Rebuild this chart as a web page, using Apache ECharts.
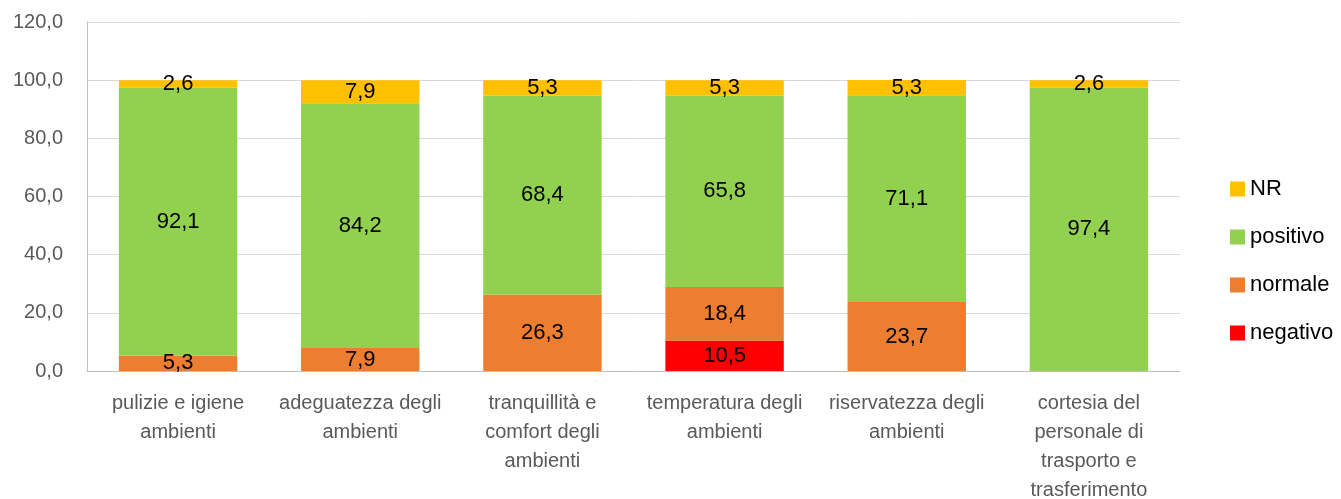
<!DOCTYPE html>
<html>
<head>
<meta charset="utf-8">
<script src="https://cdn.jsdelivr.net/npm/echarts@6/dist/echarts.min.js"></script>
<style>
  html, body { margin: 0; padding: 0; background: #fff; }
  #chart { width: 1341px; height: 499px; }
</style>
</head>
<body>
<div id="chart"></div>
<script>
// categorie (a capo come nel grafico originale)
const categories = [
  'pulizie e igiene\nambienti',
  'adeguatezza degli\nambienti',
  'tranquillità e\ncomfort degli\nambienti',
  'temperatura degli\nambienti',
  'riservatezza degli\nambienti',
  'cortesia del\npersonale di\ntrasporto e\ntrasferimento'
];
const negativo = [0, 0, 0, 10.5, 0, 0];
const normale = [5.3, 7.9, 26.3, 18.4, 23.7, 0];
const positivo = [92.1, 84.2, 68.4, 65.8, 71.1, 97.4];
const nr = [2.6, 7.9, 5.3, 5.3, 5.3, 2.6];
const legendOrder = ['NR', 'positivo', 'normale', 'negativo'];

const fontFam = '"Liberation Sans", "DejaVu Sans", sans-serif';
const fmt = v => v.toFixed(1).replace('.', ',');

function makeSeries(name, data, color) {
  return {
    name: name,
    type: 'bar',
    stack: 'tot',
    barCategoryGap: '35%',
    data: data,
    itemStyle: { color: color },
    label: {
      show: true,
      position: 'inside',
      color: '#000',
      fontSize: 22,
      fontFamily: fontFam,
      formatter: p => (p.value ? fmt(p.value) : '')
    }
  };
}

const chart = echarts.init(document.getElementById('chart'));
chart.setOption({
  animation: false,
  textStyle: { fontFamily: fontFam },
  grid: { left: 87, right: 161, top: 22, bottom: 128, containLabel: false, outerBoundsMode: 'none' },
  legend: {
    data: legendOrder,
    orient: 'vertical',
    left: 1225,
    top: 173,
    itemWidth: 15,
    itemHeight: 15,
    itemGap: 26,
    icon: 'rect',
    textStyle: { fontSize: 22, color: '#000', fontFamily: fontFam }
  },
  xAxis: {
    type: 'category',
    data: categories,
    axisLine: { lineStyle: { color: '#bfbfbf' } },
    axisTick: { show: false },
    axisLabel: {
      interval: 0,
      color: '#595959',
      fontSize: 20,
      lineHeight: 29,
      margin: 18,
      fontFamily: fontFam
    }
  },
  yAxis: {
    type: 'value',
    min: 0,
    max: 120,
    interval: 20,
    axisLine: { show: true, lineStyle: { color: '#bfbfbf' } },
    axisTick: { show: false },
    splitLine: { lineStyle: { color: '#d9d9d9' } },
    axisLabel: {
      color: '#595959',
      fontSize: 20,
      margin: 24,
      fontFamily: fontFam,
      formatter: v => fmt(v)
    }
  },
  series: [
    makeSeries('negativo', negativo, '#FF0000'),
    makeSeries('normale', normale, '#ED7D31'),
    makeSeries('positivo', positivo, '#92D050'),
    makeSeries('NR', nr, '#FFC000')
  ]
});
</script>
</body>
</html>
